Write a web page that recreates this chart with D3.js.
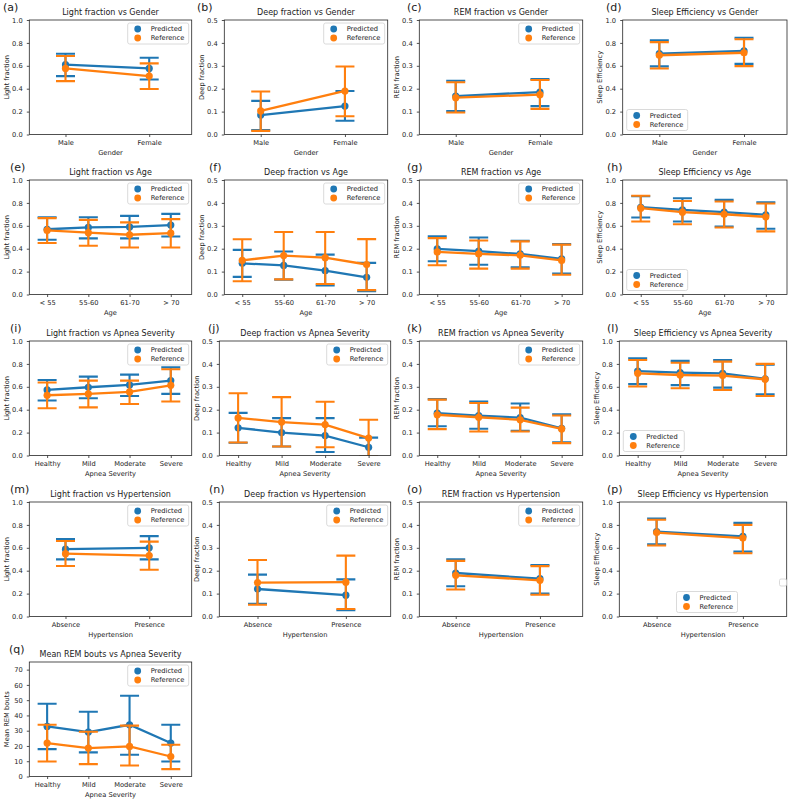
<!DOCTYPE html>
<html><head><meta charset="utf-8">
<script src="https://cdn.jsdelivr.net/npm/d3@7"></script>
<style>
body{margin:0;background:#fff}
svg{display:block}
text{font-family:"DejaVu Sans",sans-serif;fill:#1a1a1a}
</style>
</head><body>
<svg id="c" width="790" height="799"></svg>
<script>
// ---------------- categories ----------------
const genderCats = ["Male", "Female"];
const ageCats = ["< 55", "55-60", "61-70", "> 70"];
const apneaCats = ["Healthy", "Mild", "Moderate", "Severe"];
const hyperCats = ["Absence", "Presence"];
const seriesNames = ["Predicted", "Reference"];
const seriesColors = ["#1f77b4", "#ff7f0e"];

// ---------------- tick labels ----------------
const ticksFrac1 = [0, 0.2, 0.4, 0.6, 0.8, 1.0];
const ticksFrac05 = [0, 0.1, 0.2, 0.3, 0.4, 0.5];
const ticksBouts = [0, 10, 20, 30, 40, 50, 60, 70];

// ---------------- values: [mean, lower CI, upper CI] per category ----------------
const lightGenderPred = [[0.610, 0.510, 0.705], [0.577, 0.481, 0.670]];
const lightGenderRef  = [[0.577, 0.466, 0.685], [0.510, 0.397, 0.621]];
const deepGenderPred  = [[0.085, 0.019, 0.147], [0.124, 0.060, 0.190]];
const deepGenderRef   = [[0.103, 0.016, 0.188], [0.190, 0.080, 0.297]];
const remGenderPred   = [[0.168, 0.102, 0.235], [0.185, 0.124, 0.242]];
const remGenderRef    = [[0.161, 0.096, 0.228], [0.174, 0.112, 0.238]];
const seGenderPred    = [[0.707, 0.595, 0.822], [0.731, 0.617, 0.845]];
const seGenderRef     = [[0.692, 0.576, 0.807], [0.714, 0.597, 0.832]];

const lightAgePred = [[0.570, 0.478, 0.675], [0.586, 0.490, 0.675], [0.590, 0.490, 0.687], [0.606, 0.507, 0.704]];
const lightAgeRef  = [[0.560, 0.450, 0.667], [0.540, 0.426, 0.652], [0.522, 0.410, 0.630], [0.536, 0.410, 0.658]];
const deepAgePred  = [[0.136, 0.077, 0.195], [0.127, 0.065, 0.188], [0.104, 0.039, 0.174], [0.075, 0.014, 0.138]];
const deepAgeRef   = [[0.149, 0.058, 0.241], [0.170, 0.066, 0.273], [0.161, 0.046, 0.273], [0.131, 0.019, 0.242]];
const remAgePred   = [[0.199, 0.145, 0.254], [0.189, 0.130, 0.249], [0.177, 0.119, 0.235], [0.156, 0.092, 0.220]];
const remAgeRef    = [[0.186, 0.128, 0.246], [0.177, 0.113, 0.236], [0.171, 0.113, 0.232], [0.149, 0.086, 0.218]];
const seAgePred    = [[0.762, 0.672, 0.858], [0.739, 0.638, 0.840], [0.719, 0.594, 0.826], [0.696, 0.574, 0.806]];
const seAgeRef     = [[0.754, 0.638, 0.862], [0.719, 0.614, 0.817], [0.701, 0.585, 0.812], [0.678, 0.551, 0.795]];

const lightApneaPred = [[0.573, 0.480, 0.660], [0.596, 0.500, 0.689], [0.616, 0.520, 0.706], [0.654, 0.538, 0.770]];
const lightApneaRef  = [[0.526, 0.413, 0.637], [0.538, 0.420, 0.654], [0.555, 0.450, 0.654], [0.613, 0.471, 0.753]];
const deepApneaPred  = [[0.121, 0.056, 0.186], [0.100, 0.039, 0.163], [0.087, 0.015, 0.163], [0.036, -0.005, 0.078]];
const deepApneaRef   = [[0.164, 0.057, 0.272], [0.146, 0.039, 0.255], [0.135, 0.036, 0.235], [0.076, -0.004, 0.156]];
const remApneaPred   = [[0.185, 0.128, 0.246], [0.174, 0.117, 0.236], [0.165, 0.108, 0.227], [0.119, 0.058, 0.180]];
const remApneaRef    = [[0.178, 0.115, 0.244], [0.167, 0.105, 0.229], [0.156, 0.105, 0.209], [0.116, 0.054, 0.175]];
const seApneaPred    = [[0.737, 0.623, 0.848], [0.724, 0.615, 0.826], [0.717, 0.593, 0.834], [0.669, 0.535, 0.792]];
const seApneaRef     = [[0.718, 0.602, 0.834], [0.703, 0.587, 0.810], [0.698, 0.572, 0.820], [0.665, 0.520, 0.800]];

const lightHyperPred = [[0.588, 0.499, 0.677], [0.600, 0.499, 0.702]];
const lightHyperRef  = [[0.549, 0.441, 0.660], [0.532, 0.408, 0.654]];
const deepHyperPred  = [[0.120, 0.055, 0.183], [0.093, 0.027, 0.162]];
const deepHyperRef   = [[0.148, 0.051, 0.247], [0.150, 0.033, 0.266]];
const remHyperPred   = [[0.190, 0.132, 0.250], [0.165, 0.100, 0.225]];
const remHyperRef    = [[0.180, 0.118, 0.243], [0.158, 0.095, 0.220]];
const seHyperPred    = [[0.742, 0.630, 0.855], [0.700, 0.567, 0.818]];
const seHyperRef     = [[0.733, 0.620, 0.845], [0.685, 0.552, 0.800]];

const boutsApneaPred = [[32.8, 17.9, 47.7], [29.1, 15.8, 42.4], [33.9, 14.2, 52.9], [21.9, 9.8, 33.9]];
const boutsApneaRef  = [[21.9, 9.8, 33.9], [18.6, 8.1, 29.3], [19.7, 7.2, 33.3], [13.1, 4.8, 20.8]];

// ---------------- panel table ----------------
const panels = [
  {tag:"(a)", title:"Light fraction vs Gender", yl:"Light fraction", xl:"Gender", cats:genderCats, yMax:1.0, ticks:ticksFrac1, s:[lightGenderPred, lightGenderRef], leg:"ur"},
  {tag:"(b)", title:"Deep fraction vs Gender", yl:"Deep fraction", xl:"Gender", cats:genderCats, yMax:0.5, ticks:ticksFrac05, s:[deepGenderPred, deepGenderRef], leg:"ur"},
  {tag:"(c)", title:"REM fraction vs Gender", yl:"REM fraction", xl:"Gender", cats:genderCats, yMax:0.5, ticks:ticksFrac05, s:[remGenderPred, remGenderRef], leg:"ur"},
  {tag:"(d)", title:"Sleep Efficiency vs Gender", yl:"Sleep Efficiency", xl:"Gender", cats:genderCats, yMax:1.0, ticks:ticksFrac1, s:[seGenderPred, seGenderRef], leg:"ll"},
  {tag:"(e)", title:"Light fraction vs Age", yl:"Light fraction", xl:"Age", cats:ageCats, yMax:1.0, ticks:ticksFrac1, s:[lightAgePred, lightAgeRef], leg:"ur"},
  {tag:"(f)", title:"Deep fraction vs Age", yl:"Deep fraction", xl:"Age", cats:ageCats, yMax:0.5, ticks:ticksFrac05, s:[deepAgePred, deepAgeRef], leg:"ur"},
  {tag:"(g)", title:"REM fraction vs Age", yl:"REM fraction", xl:"Age", cats:ageCats, yMax:0.5, ticks:ticksFrac05, s:[remAgePred, remAgeRef], leg:"ur"},
  {tag:"(h)", title:"Sleep Efficiency vs Age", yl:"Sleep Efficiency", xl:"Age", cats:ageCats, yMax:1.0, ticks:ticksFrac1, s:[seAgePred, seAgeRef], leg:"ll"},
  {tag:"(i)", title:"Light fraction vs Apnea Severity", yl:"Light fraction", xl:"Apnea Severity", cats:apneaCats, yMax:1.0, ticks:ticksFrac1, s:[lightApneaPred, lightApneaRef], leg:"ur"},
  {tag:"(j)", title:"Deep fraction vs Apnea Severity", yl:"Deep fraction", xl:"Apnea Severity", cats:apneaCats, yMax:0.5, ticks:ticksFrac05, s:[deepApneaPred, deepApneaRef], leg:"ur"},
  {tag:"(k)", title:"REM fraction vs Apnea Severity", yl:"REM fraction", xl:"Apnea Severity", cats:apneaCats, yMax:0.5, ticks:ticksFrac05, s:[remApneaPred, remApneaRef], leg:"ur"},
  {tag:"(l)", title:"Sleep Efficiency vs Apnea Severity", yl:"Sleep Efficiency", xl:"Apnea Severity", cats:apneaCats, yMax:1.0, ticks:ticksFrac1, s:[seApneaPred, seApneaRef], leg:"ll"},
  {tag:"(m)", title:"Light fraction vs Hypertension", yl:"Light fraction", xl:"Hypertension", cats:hyperCats, yMax:1.0, ticks:ticksFrac1, s:[lightHyperPred, lightHyperRef], leg:"ur"},
  {tag:"(n)", title:"Deep fraction vs Hypertension", yl:"Deep fraction", xl:"Hypertension", cats:hyperCats, yMax:0.5, ticks:ticksFrac05, s:[deepHyperPred, deepHyperRef], leg:"ur"},
  {tag:"(o)", title:"REM fraction vs Hypertension", yl:"REM fraction", xl:"Hypertension", cats:hyperCats, yMax:0.5, ticks:ticksFrac05, s:[remHyperPred, remHyperRef], leg:"ur"},
  {tag:"(p)", title:"Sleep Efficiency vs Hypertension", yl:"Sleep Efficiency", xl:"Hypertension", cats:hyperCats, yMax:1.0, ticks:ticksFrac1, s:[seHyperPred, seHyperRef], leg:"lc"},
  {tag:"(q)", title:"Mean REM bouts vs Apnea Severity", yl:"Mean REM bouts", xl:"Apnea Severity", cats:apneaCats, yMax:75, ticks:ticksBouts, s:[boutsApneaPred, boutsApneaRef], leg:"ur", intTicks:true}
];

// ---------------- layout (axes boxes, tag x) ----------------
const rowTop = [20, 180, 341, 502, 662];
const rowH = 114.5;
const colBoxesA = [[29.3,191.7],[224.3,387.7],[419.3,582.7],[622.7,787]];
const colBoxesB = [[29.3,191.7],[219.3,390.7],[419.3,582.7],[619.3,786.7]];
const tagX = [3,197,407,606, 10,209,407,607, 10,208,407,607, 10,209,407,607, 9];

const svg = d3.select("#c");
const defs = svg.append("defs");
const FS = 6.7;
const AXC = "#262626";

panels.forEach((p, idx) => {
  const row = Math.floor(idx / 4), col = idx % 4;
  const cb = (row < 2 ? colBoxesA : colBoxesB)[col];
  const x0 = cb[0], x1 = cb[1], y0 = rowTop[row], y1 = y0 + rowH;
  const g = svg.append("g");

  const x = d3.scalePoint().domain(p.cats).range([x0, x1]).padding(0.47).align(0.46);
  const y = d3.scaleLinear().domain([0, p.yMax]).range([y1, y0]);

  const cid = "clip" + idx;
  defs.append("clipPath").attr("id", cid).append("rect")
    .attr("x", x0).attr("y", y0).attr("width", x1 - x0).attr("height", y1 - y0);

  // axes
  const xg = g.append("g").attr("transform", `translate(0,${y1})`)
    .call(d3.axisBottom(x).tickSize(2.5).tickPadding(3.1));
  const yg = g.append("g").attr("transform", `translate(${x0},0)`)
    .call(d3.axisLeft(y).tickValues(p.ticks).tickFormat(p.intTicks ? d3.format("d") : d3.format(".1f")).tickSize(2.5).tickPadding(4.1));
  [xg, yg].forEach(a => {
    a.select(".domain").remove();
    a.attr("font-size", FS).attr("font-family", "DejaVu Sans");
    a.selectAll("line").attr("stroke", AXC).attr("stroke-width", 0.8);
    a.selectAll("text").style("fill", "#1a1a1a");
  });

  // data
  const plot = g.append("g").attr("clip-path", `url(#${cid})`);
  const capW = 9.5, LW = 2.1;
  p.s.forEach((ser, si) => {
    const col = seriesColors[si];
    const sg = plot.append("g");
    sg.selectAll("line.err").data(ser).join("line").attr("class", "err")
      .attr("x1", (d, i) => x(p.cats[i])).attr("x2", (d, i) => x(p.cats[i]))
      .attr("y1", d => y(d[1])).attr("y2", d => y(d[2]))
      .attr("stroke", col).attr("stroke-width", LW);
    [1, 2].forEach(k => {
      sg.selectAll("line.cap" + k).data(ser).join("line").attr("class", "cap" + k)
        .attr("x1", (d, i) => x(p.cats[i]) - capW).attr("x2", (d, i) => x(p.cats[i]) + capW)
        .attr("y1", d => y(d[k])).attr("y2", d => y(d[k]))
        .attr("stroke", col).attr("stroke-width", LW);
    });
    sg.append("path").datum(ser)
      .attr("d", d3.line().x((d, i) => x(p.cats[i])).y(d => y(d[0])))
      .attr("fill", "none").attr("stroke", col).attr("stroke-width", LW + 0.2);
    sg.selectAll("circle").data(ser).join("circle")
      .attr("cx", (d, i) => x(p.cats[i])).attr("cy", d => y(d[0])).attr("r", 3.6)
      .attr("fill", col);
  });

  // spines
  g.append("rect").attr("x", x0).attr("y", y0).attr("width", x1 - x0).attr("height", y1 - y0)
    .attr("fill", "none").attr("stroke", AXC).attr("stroke-width", 0.8);

  // labels
  g.append("text").attr("x", (x0 + x1) / 2).attr("y", y0 - 5.5).attr("text-anchor", "middle")
    .attr("font-size", 8).text(p.title);
  g.append("text").attr("x", tagX[idx]).attr("y", y0 - 9.5).attr("font-size", 11).text(p.tag);
  g.append("text").attr("x", (x0 + x1) / 2).attr("y", y1 + 20.4).attr("text-anchor", "middle")
    .attr("font-size", FS).text(p.xl);
  g.append("text").attr("transform", `translate(${x0 - 20.5},${(y0 + y1) / 2}) rotate(-90)`)
    .attr("text-anchor", "middle").attr("font-size", FS).text(p.yl);

  // legend
  const LWd = 61, LH = 21;
  let lx, ly;
  if (p.leg === "ur") { lx = x1 - 3 - LWd; ly = y0 + 3; }
  else if (p.leg === "ll") { lx = x0 + 4; ly = y1 - 4 - LH; }
  else { lx = (x0 + x1) / 2 - LWd / 2 + 4; ly = y1 - 4 - LH; }
  const lg = g.append("g").attr("transform", `translate(${lx},${ly})`);
  lg.append("rect").attr("width", LWd).attr("height", LH).attr("rx", 2)
    .attr("fill", "#fff").attr("fill-opacity", 0.8).attr("stroke", "#d0d0d0").attr("stroke-width", 0.8);
  seriesNames.forEach((nm, i) => {
    lg.append("circle").attr("cx", 10).attr("cy", 6 + i * 9).attr("r", 3.4).attr("fill", seriesColors[i]);
    lg.append("text").attr("x", 23).attr("y", 6 + i * 9).attr("dy", "0.35em").attr("font-size", FS).text(nm);
  });
});

// empty legend of the unused last axes
svg.append("rect").attr("x", 779.5).attr("y", 579).attr("width", 7).attr("height", 7).attr("rx", 1.5)
  .attr("fill", "#fff").attr("stroke", "#d0d0d0").attr("stroke-width", 0.8);
</script>
</body></html>
